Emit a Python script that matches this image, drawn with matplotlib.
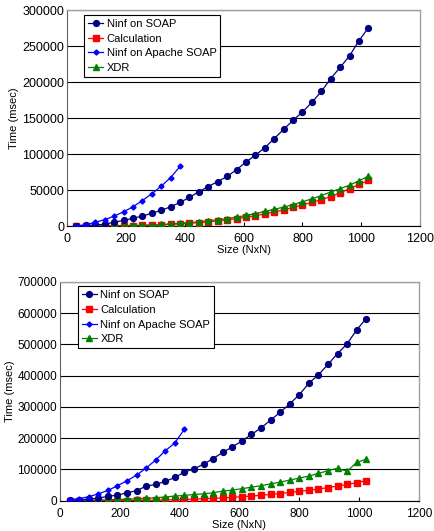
import matplotlib
matplotlib.use("Agg")
import matplotlib.pyplot as plt

plt.rcParams['font.family'] = ['Liberation Sans', 'DejaVu Sans']

sizes = [32 * i for i in range(1, 33)]
apache_sizes_top = sizes[:12]
apache_sizes_bot = sizes[:13]

# Top chart
soap_top = [500, 1000, 1500, 2800, 5500, 8000, 11000, 14000, 18000, 22000, 27000, 33000,
            40000, 48000, 55000, 62000, 69000, 78500, 89000, 98500, 109000, 121500, 134500, 147000,
            158500, 172000, 187000, 205000, 220500, 236500, 257500, 275500]
calc_top = [5, 20, 50, 120, 250, 400, 700, 1000, 1400, 2000, 2500, 3300,
            4000, 5000, 6000, 7500, 8800, 10500, 12500, 14500, 17000, 20000, 22500, 26000,
            29500, 33000, 37000, 41000, 46500, 52000, 58000, 63500]
apache_top = [500, 2000, 5500, 9000, 14000, 20000, 27000, 35500, 45000, 55500, 67500, 83000]
xdr_top = [20, 60, 150, 300, 500, 750, 1000, 1300, 1800, 2400, 3200, 4000,
           5000, 6000, 7500, 9000, 10500, 12500, 15000, 17500, 20500, 23500, 26500, 30000,
           34000, 38000, 42500, 47500, 52000, 57000, 63000, 69500]

# Bottom chart
soap_bot = [1000, 3000, 5000, 8500, 14000, 18000, 25500, 32000, 47000, 52000, 62000, 74500,
            91500, 102000, 117000, 135000, 154500, 172500, 191000, 212000, 233000, 258000, 283000, 310000,
            339000, 376000, 403000, 436000, 471000, 502000, 547000, 583000]
calc_bot = [5, 20, 50, 120, 250, 400, 700, 1000, 1400, 2000, 2500, 3300,
            4000, 5000, 6500, 7500, 9000, 11000, 13000, 15000, 17500, 20500, 23000, 26500,
            30000, 33500, 37500, 42000, 47000, 52000, 58000, 64500]
apache_bot = [3000, 6500, 13000, 22000, 33000, 48000, 64000, 82000, 105000, 130000, 160000, 185000, 229000]
xdr_bot = [300, 700, 1200, 2000, 3000, 4000, 5000, 6000, 7500, 9500, 12000, 15000,
           17000, 20000, 22000, 25500, 31000, 34000, 38500, 43500, 48000, 54000, 59500, 66000,
           72500, 79000, 87500, 96000, 104000, 94000, 122500, 133000]

labels = ["Ninf on SOAP", "Calculation", "Ninf on Apache SOAP", "XDR"]
x_ticks = [0, 200, 400, 600, 800, 1000, 1200]

fig = plt.figure(figsize=(4.35, 5.31), dpi=100)

def draw(ax, soap, calc, apache_x, apache, xdr, ymax, ystep, leg_anchor, tsize):
    ax.plot(sizes, soap, color='#000080', marker='o', markersize=4.2, lw=0.9, label=labels[0], zorder=4)
    ax.plot(sizes, calc, color='#FF0000', marker='s', markersize=4.0, lw=0.9, label=labels[1], zorder=3)
    ax.plot(apache_x, apache, color='#0000FF', marker='D', markersize=2.6, lw=0.9, label=labels[2], zorder=4)
    ax.plot(sizes, xdr, color='#008000', marker='^', markersize=4.2, lw=0.9, label=labels[3], zorder=3)
    ax.set_xlim(0, 1200)
    ax.set_ylim(0, ymax)
    ax.set_xticks(x_ticks)
    ax.set_yticks(list(range(0, ymax + 1, ystep)))
    ax.yaxis.grid(True, color='black', lw=0.8)
    ax.set_axisbelow(True)
    ax.tick_params(axis='x', direction='in', length=3, labelsize=tsize, pad=5)
    ax.tick_params(axis='y', direction='in', length=0, labelsize=tsize, pad=2)
    for s in ['top', 'right']:
        ax.spines[s].set_color('#a0a0a0')
        ax.spines[s].set_linewidth(1.0)
    ax.spines['left'].set_color('#606060')
    ax.spines['bottom'].set_color('black')
    ax.set_xlabel("Size (NxN)", fontsize=8, labelpad=0)
    ax.set_ylabel("Time (msec)", fontsize=8, labelpad=2)
    leg = ax.legend(loc='upper left', bbox_to_anchor=leg_anchor, fontsize=8, frameon=True,
                    fancybox=False, edgecolor='black', framealpha=1, handlelength=1.4,
                    handletextpad=0.3, borderpad=0.35, labelspacing=0.42, borderaxespad=0)
    leg.get_frame().set_linewidth(0.8)

ax1 = fig.add_axes([0.154, 0.574, 0.812, 0.407])
draw(ax1, soap_top, calc_top, apache_sizes_top, apache_top, xdr_top, 300000, 50000, (0.048, 0.977), 9.0)

ax2 = fig.add_axes([0.138, 0.057, 0.825, 0.412])
draw(ax2, soap_bot, calc_bot, apache_sizes_bot, apache_bot, xdr_bot, 700000, 100000, (0.049, 0.98), 8.5)

fig.savefig("out.png", dpi=100)
